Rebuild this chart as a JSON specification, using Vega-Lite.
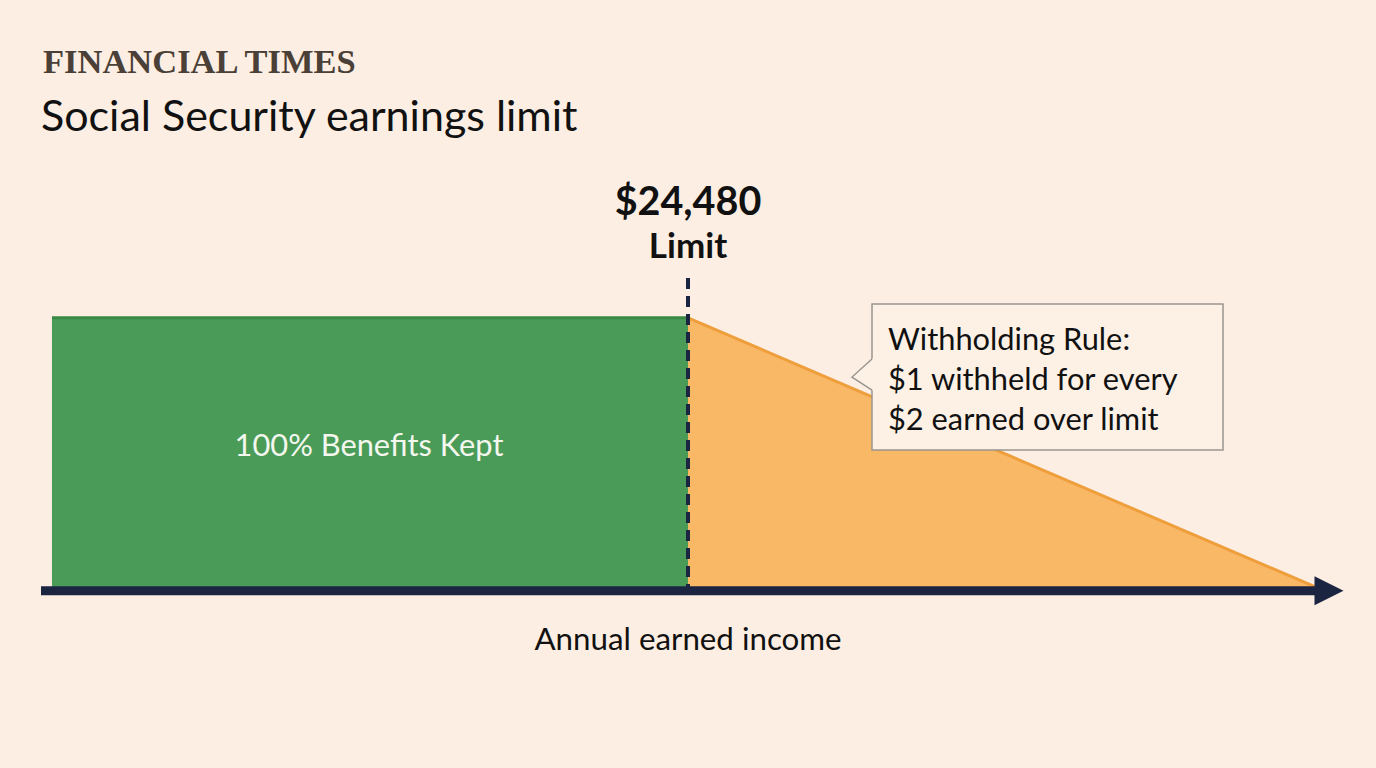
{
  "$schema": "https://vega.github.io/schema/vega-lite/v6.json",
  "width": 1376,
  "height": 768,
  "autosize": {"type": "none"},
  "padding": 0,
  "background": "#FCEEE2",
  "config": {"view": {"stroke": null}},
  "datasets": {
    "green": [{"x": 0, "x2": 24480, "y": 0, "y2": 100}],
    "greenTop": [{"x": 0, "x2": 24480, "y": 100}],
    "orange": [{"x": 24480, "y": 100, "y2": 0}, {"x": 48960, "y": 0, "y2": 0}],
    "limitLine": [{"x": 24480, "y": 114.6, "y2": 0}],
    "axisLine": [{"x": -422, "x2": 48727, "y": 0}],
    "arrow": [{"x": 49151, "y": 0}],
    "box": [{"x": 31562, "x2": 45071, "y": 51.6, "y2": 105.1}],
    "pointerFill": [{"x": 30792, "y": 78.3, "y2": 78.3}, {"x": 31639, "y": 85.6, "y2": 73.1}],
    "pointerEdge": [{"x": 31562, "y": 84.9, "o": 1}, {"x": 30792, "y": 78.3, "o": 2}, {"x": 31562, "y": 73.5, "o": 3}],
    "brand": [{"x": -345, "y": 189.7, "label": "FINANCIAL TIMES"}],
    "headline": [{"x": -422, "y": 168.5, "label": "Social Security earnings limit"}],
    "limitValue": [{"x": 24480, "y": 137.8, "label": "$24,480"}],
    "limitWord": [{"x": 24480, "y": 121.9, "label": "Limit"}],
    "callout": [
      {"x": 32177, "y": 88.2, "label": "Withholding Rule:"},
      {"x": 32177, "y": 73.5, "label": "$1 withheld for every"},
      {"x": 32177, "y": 58.9, "label": "$2 earned over limit"}
    ],
    "kept": [{"x": 12202, "y": 49.4, "label": "100% Benefits Kept"}],
    "axisTitle": [{"x": 24480, "y": -21.7, "label": "Annual earned income"}]
  },
  "encoding": {
    "x": {"field": "x", "type": "quantitative", "scale": {"domain": [-2000, 50960], "nice": false, "zero": false}, "axis": null},
    "y": {"field": "y", "type": "quantitative", "scale": {"domain": [-65, 216.5], "nice": false, "zero": false}, "axis": null}
  },
  "layer": [
    {
      "data": {"name": "green"},
      "mark": {"type": "rect", "color": "#4A9B58", "opacity": 1},
      "encoding": {"x2": {"field": "x2"}, "y2": {"field": "y2"}}
    },
    {
      "data": {"name": "orange"},
      "mark": {"type": "area", "color": "#F9B866", "opacity": 1},
      "encoding": {"y2": {"field": "y2"}}
    },
    {
      "data": {"name": "orange"},
      "mark": {"type": "line", "color": "#EF9E3C", "strokeWidth": 3},
      "encoding": {}
    },
    {
      "data": {"name": "greenTop"},
      "mark": {"type": "rule", "color": "#3A8846", "strokeWidth": 3},
      "encoding": {"x2": {"field": "x2"}}
    },
    {
      "data": {"name": "limitLine"},
      "mark": {"type": "rule", "color": "#1B2541", "strokeWidth": 4, "strokeDash": [11, 7]},
      "encoding": {"y2": {"field": "y2"}}
    },
    {
      "data": {"name": "axisLine"},
      "mark": {"type": "rule", "color": "#1B2541", "strokeWidth": 9},
      "encoding": {"x2": {"field": "x2"}}
    },
    {
      "data": {"name": "arrow"},
      "mark": {"type": "point", "shape": "M -1 -1 L 1 0 L -1 1 Z", "size": 841, "filled": true, "color": "#1B2541", "opacity": 1}
    },
    {
      "data": {"name": "box"},
      "mark": {"type": "rect", "fill": "#FDF1E6", "stroke": "#9A9590", "strokeWidth": 1.5},
      "encoding": {"x2": {"field": "x2"}, "y2": {"field": "y2"}}
    },
    {
      "data": {"name": "pointerFill"},
      "mark": {"type": "area", "color": "#FDF1E6", "opacity": 1, "orient": "vertical"},
      "encoding": {"y2": {"field": "y2"}}
    },
    {
      "data": {"name": "pointerEdge"},
      "mark": {"type": "line", "color": "#9A9590", "strokeWidth": 1.5},
      "encoding": {"order": {"field": "o"}}
    },
    {
      "data": {"name": "brand"},
      "mark": {"type": "text", "align": "left", "baseline": "alphabetic", "font": "Liberation Serif", "fontSize": 34.5, "fontWeight": "bold", "color": "#4A4037"},
      "encoding": {"text": {"field": "label"}}
    },
    {
      "data": {"name": "headline"},
      "mark": {"type": "text", "align": "left", "baseline": "alphabetic", "font": "Lato", "fontSize": 43, "color": "#111111"},
      "encoding": {"text": {"field": "label"}}
    },
    {
      "data": {"name": "limitValue"},
      "mark": {"type": "text", "align": "center", "baseline": "alphabetic", "font": "Lato", "fontSize": 39.5, "fontWeight": "bold", "color": "#111111"},
      "encoding": {"text": {"field": "label"}}
    },
    {
      "data": {"name": "limitWord"},
      "mark": {"type": "text", "align": "center", "baseline": "alphabetic", "font": "Lato", "fontSize": 35, "fontWeight": "bold", "color": "#111111"},
      "encoding": {"text": {"field": "label"}}
    },
    {
      "data": {"name": "callout"},
      "mark": {"type": "text", "align": "left", "baseline": "alphabetic", "font": "Lato", "fontSize": 30.8, "color": "#111111"},
      "encoding": {"text": {"field": "label"}}
    },
    {
      "data": {"name": "kept"},
      "mark": {"type": "text", "align": "center", "baseline": "alphabetic", "font": "Lato", "fontSize": 30.8, "color": "#F4F7EE"},
      "encoding": {"text": {"field": "label"}}
    },
    {
      "data": {"name": "axisTitle"},
      "mark": {"type": "text", "align": "center", "baseline": "alphabetic", "font": "Lato", "fontSize": 31.3, "color": "#111111"},
      "encoding": {"text": {"field": "label"}}
    }
  ]
}
